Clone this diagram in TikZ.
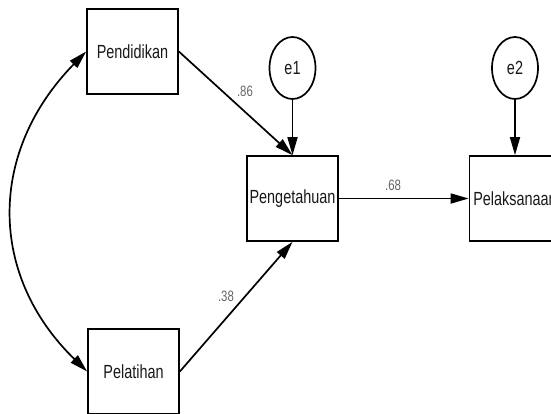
\documentclass[tikz,border=0pt]{standalone}
\usepackage{fontspec}
\setmainfont{Liberation Sans}
\usepackage{graphicx}
\usetikzlibrary{arrows.meta,shapes.geometric}
\newcommand{\myxs}[1]{\scalebox{0.76}[1]{#1}}
\begin{document}
\begin{tikzpicture}[x=1pt,y=-1pt,
  varbox/.style={draw=black,line width=1.7pt,minimum width=91pt,minimum height=85pt,inner sep=0pt,font=\fontsize{19}{22}\selectfont,text=black!90},
  errcirc/.style={draw=black,line width=1.7pt,ellipse,minimum width=46pt,minimum height=62pt,inner sep=0pt,font=\fontsize{19}{22}\selectfont,text=black!90},
  patharrow/.style={line width=1.7pt,-{Triangle[length=18pt,width=10pt]}},
  biarrow/.style={line width=1.7pt,{Triangle[length=18pt,width=10pt]}-{Triangle[length=18pt,width=10pt]}},
  coef/.style={font=\fontsize{15}{18}\selectfont,text=black!60,inner sep=0pt}
]
\clip (0,0) rectangle (551,413);
\fill[white] (0,0) rectangle (551,413);
\node[varbox] (pend) at (132.5,51.5) {\myxs{Pendidikan}};
\node[varbox] (pelat) at (133.5,371.5) {\myxs{Pelatihan}};
\node[varbox] (peng) at (292.5,198.5) {\myxs{Pengetahuan}};
\node[varbox] (pelak) at (515,198.5) {\myxs{Pelaksanaan}};
\node[errcirc] (e1) at (292.5,68) {\myxs{e1}};
\node[errcirc] (e2) at (515,68) {\myxs{e2}};
\draw[patharrow] (e1.south) -- (peng.north);
\draw[patharrow] (e2.south) -- (pelak.north);
\draw[patharrow] (pend.east) -- (peng.north);
\draw[patharrow] (pelat.east) -- (peng.south);
\draw[patharrow] (peng.east) -- (pelak.west);
\draw[biarrow] (pend.west) .. controls (-12,152) and (-12,275) .. (pelat.west);
\node[coef] (c86) at (245,91) {\myxs{.86}};
\node[coef] (c68) at (393,185) {\myxs{.68}};
\node[coef] (c38) at (226,296) {\myxs{.38}};
\end{tikzpicture}
\end{document}
